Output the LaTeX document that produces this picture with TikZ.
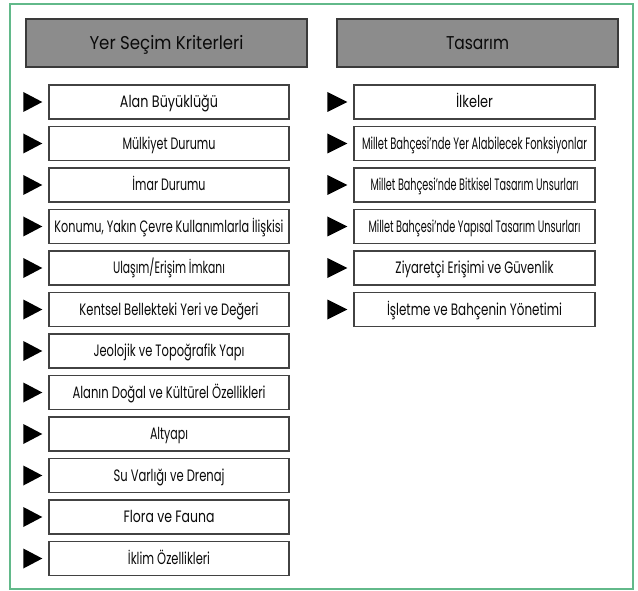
\documentclass[tikz,border=0pt]{standalone}
\usepackage{fontspec}
\setmainfont{Poppins}
\usetikzlibrary{calc}
\definecolor{frame}{HTML}{62B98A}
\definecolor{headfill}{HTML}{8C8C8C}
\definecolor{headline}{HTML}{3A3A3A}
\definecolor{boxline}{HTML}{424242}
\definecolor{txt}{HTML}{0A0A0A}
\newcommand\fw[2]{\resizebox{#1pt}{\height}{#2}}
\tikzset{
  headbox/.style={draw=headline, fill=headfill, line width=1.5pt, minimum width=281pt, minimum height=48pt, inner sep=0pt,
    font=\fontsize{18.5}{18.5}\selectfont, text=txt, text height=13pt, text depth=0pt},
  itembox/.style={draw=boxline, fill=white, line width=1.4pt, minimum height=34pt, inner sep=0pt,
    font=\fontsize{16.5}{16.5}\selectfont, text=txt, text height=11.5pt, text depth=0pt},
  leftbox/.style={itembox, minimum width=240pt},
  rightbox/.style={itembox, minimum width=241pt},
  tri/.style={fill=black}
}
\newcommand\arrowmark[2]{% node, base offset
  \fill[tri] ([xshift=-6pt]#1.west) -- ([xshift=-#2pt,yshift=10pt]#1.west) -- ([xshift=-#2pt,yshift=-10pt]#1.west) -- cycle;}
\begin{document}
\begin{tikzpicture}[x=1pt,y=-1pt]
\useasboundingbox (0,0) rectangle (638,591);
\fill[white] (0,0) rectangle (638,591);
\draw[frame, line width=1.5pt] (10,4) rectangle (633,589);

\node[headbox] (h1) at (166.5,43) {\fw{154}{Yer Seçim Kriterleri}};
\node[headbox] (h2) at (477.5,43) {\fw{63}{Tasarım}};

\node[leftbox] (l1)  at (169,102)   {\fw{98}{Alan Büyüklüğü}};
\node[leftbox] (l2)  at (169,143.5) {\fw{93}{Mülkiyet Durumu}};
\node[leftbox] (l3)  at (169,185)   {\fw{73}{İmar Durumu}};
\node[leftbox] (l4)  at (169,226.5) {\fw{229}{Konumu, Yakın Çevre Kullanımlarla İlişkisi}};
\node[leftbox] (l5)  at (169,268)   {\fw{112}{Ulaşım/Erişim İmkanı}};
\node[leftbox] (l6)  at (169,309.5) {\fw{179}{Kentsel Bellekteki Yeri ve Değeri}};
\node[leftbox] (l7)  at (169,351)   {\fw{151}{Jeolojik ve Topoğrafik Yapı}};
\node[leftbox] (l8)  at (169,392.5) {\fw{193}{Alanın Doğal ve Kültürel Özellikleri}};
\node[leftbox] (l9)  at (169,434)   {\fw{38}{Altyapı}};
\node[leftbox] (l10) at (169,475.5) {\fw{111}{Su Varlığı ve Drenaj}};
\node[leftbox] (l11) at (169,517)   {\fw{91}{Flora ve Fauna}};
\node[leftbox] (l12) at (169,558.5) {\fw{82}{İklim Özellikleri}};

\node[rightbox] (r1) at (474.5,102)   {\fw{37}{İlkeler}};
\node[rightbox] (r2) at (474.5,143.5) {\fw{225}{Millet Bahçesi’nde Yer Alabilecek Fonksiyonlar}};
\node[rightbox] (r3) at (474.5,185)   {\fw{208}{Millet Bahçesi’nde Bitkisel Tasarım Unsurları}};
\node[rightbox] (r4) at (474.5,226.5) {\fw{212}{Millet Bahçesi’nde Yapısal Tasarım Unsurları}};
\node[rightbox] (r5) at (474.5,268)   {\fw{158}{Ziyaretçi Erişimi ve Güvenlik}};
\node[rightbox] (r6) at (474.5,309.5) {\fw{175}{İşletme ve Bahçenin Yönetimi}};

\foreach \n in {l1,l2,l3,l4,l5,l6,l7,l8,l9,l10,l11,l12} {\arrowmark{\n}{25}}
\foreach \n in {r1,r2,r3,r4,r5,r6} {\arrowmark{\n}{26}}
\end{tikzpicture}
\end{document}
